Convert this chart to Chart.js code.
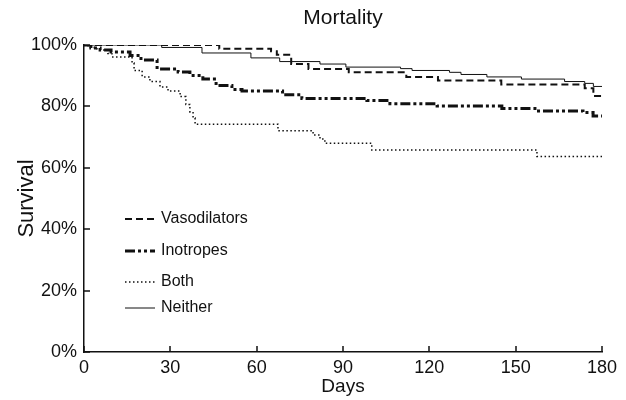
<!DOCTYPE html>
<html>
<head>
<meta charset="utf-8">
<script src="https://cdn.jsdelivr.net/npm/chart.js@4.4.1/dist/chart.umd.min.js"></script>
<style>
  html, body { margin: 0; padding: 0; background: #fff; }
  #wrap { width: 626px; height: 400px; }
</style>
</head>
<body>
<div id="wrap"><canvas id="chart" width="626" height="400"></canvas></div>
<script>
// Datos (días, % supervivencia)
const chartTitle = "Mortality";
const xTicks = [0, 30, 60, 90, 120, 150, 180];
const yTicks = [0, 20, 40, 60, 80, 100];

const vasoDays = [0, 47, 65, 67, 72, 78, 92, 112, 123, 145, 174, 177, 180];
const vasoSurv = [100, 98.8, 98, 96.8, 93.8, 92.2, 91.1, 89.6, 88.4, 87.1, 85.9, 83.4, 83.4];

const inoDays = [0, 2.4, 5.6, 9.4, 16, 19.8, 25.4, 32.7, 36.8, 41.3, 45.9, 51.4, 54.9, 69, 75.7, 98.3, 106.3, 122.7, 145.2, 156.7, 173.4, 176.9, 180];
const inoSurv = [100, 99, 98.4, 97.7, 96.6, 95.1, 92.2, 91.2, 90.1, 88.9, 86.8, 85.5, 85, 83.8, 82.6, 81.9, 80.9, 80.1, 79.3, 78.5, 78, 76.9, 76.9];

const bothDays = [0, 1.4, 4.5, 8.3, 9.7, 16.7, 17.4, 20.2, 22.9, 26.4, 29.2, 33.4, 35.4, 36.8, 37.9, 38.6, 67.4, 79.6, 82, 83.7, 100, 157.4, 180];
const bothSurv = [100, 99.2, 98.4, 97.2, 96.1, 94.1, 91.7, 89.6, 88.1, 86.3, 85, 83.2, 80.6, 78.2, 76.2, 74.2, 72.1, 70.7, 69.4, 68, 65.8, 63.7, 63.7];

const neitherDays = [0, 27, 41, 58, 68, 82, 91, 110, 114, 127, 131, 140, 152, 167, 174, 177, 180];
const neitherSurv = [100, 99.2, 97.4, 95.8, 94.6, 93.8, 92.8, 92.3, 91.7, 91.1, 90.4, 89.6, 88.9, 88.1, 87.5, 86.5, 86.5];

const ink = "#111";
const fontFam = "'Liberation Sans', Arial, sans-serif";

function pts(days, vals) {
    return days.map((d, i) => ({ x: d, y: vals[i] }));
}

const series = [
    { label: "Vasodilators", data: pts(vasoDays, vasoSurv), borderWidth: 2, borderDash: [7, 4] },
    { label: "Inotropes", data: pts(inoDays, inoSurv), borderWidth: 3, borderDash: [10, 3, 3, 3, 3, 3] },
    { label: "Both", data: pts(bothDays, bothSurv), borderWidth: 1.5, borderDash: [1.5, 2.5] },
    { label: "Neither", data: pts(neitherDays, neitherSurv), borderWidth: 1, borderDash: [] },
];

// Título, marcas de eje hacia dentro y leyenda dentro del área
const customDraw = {
    id: "customDraw",
    afterDraw(chart) {
        const ctx = chart.ctx;
        const area = chart.chartArea;
        const xs = chart.scales.x;
        const ys = chart.scales.y;
        ctx.save();
        ctx.fillStyle = ink;
        ctx.font = "21px " + fontFam;
        ctx.textAlign = "center";
        ctx.textBaseline = "middle";
        ctx.fillText(chartTitle, (area.left + area.right) / 2, 18);

        // marcas de los ejes
        ctx.strokeStyle = ink;
        ctx.lineWidth = 1.5;
        ctx.beginPath();
        xTicks.forEach(v => {
            const px = Math.round(xs.getPixelForValue(v));
            ctx.moveTo(px, area.bottom);
            ctx.lineTo(px, area.bottom - 6);
        });
        yTicks.forEach(v => {
            const py = Math.round(ys.getPixelForValue(v));
            ctx.moveTo(area.left, py);
            ctx.lineTo(area.left + 6, py);
        });
        ctx.stroke();

        const rowsY = [219, 251, 282, 308];
        ctx.font = "16px " + fontFam;
        ctx.textAlign = "left";
        chart.data.datasets.forEach((ds, i) => {
            const y = rowsY[i];
            ctx.beginPath();
            ctx.strokeStyle = ink;
            ctx.lineWidth = ds.borderWidth;
            ctx.setLineDash(ds.borderDash);
            ctx.moveTo(area.left + 41, y);
            ctx.lineTo(area.left + 71, y);
            ctx.stroke();
            ctx.setLineDash([]);
            ctx.fillText(ds.label, area.left + 77, y);
        });
        ctx.restore();
    },
};

const ctx = document.getElementById("chart").getContext("2d");
new Chart(ctx, {
    type: "line",
    data: {
        datasets: series.map(s => ({
            label: s.label,
            data: s.data,
            borderColor: ink,
            borderWidth: s.borderWidth,
            borderDash: s.borderDash,
            stepped: true,
            pointRadius: 0,
            fill: false,
        })),
    },
    options: {
        responsive: false,
        animation: false,
        layout: { padding: { left: 0, right: 24, top: 45, bottom: 0 } },
        plugins: {
            legend: { display: false },
            title: { display: false },
            tooltip: { enabled: false },
        },
        scales: {
            x: {
                type: "linear",
                min: 0,
                max: 180,
                afterBuildTicks: s => { s.ticks = xTicks.map(v => ({ value: v })); },
                afterFit: s => { s.height = 48; },
                grid: { drawOnChartArea: false, drawTicks: false },
                border: { color: ink, width: 1.5 },
                ticks: { color: ink, padding: 5, maxRotation: 0, font: { size: 18, family: fontFam } },
                title: { display: true, text: "Days", color: ink, padding: { top: 0, bottom: 2 }, font: { size: 19, family: fontFam } },
            },
            y: {
                min: 0,
                max: 100,
                afterBuildTicks: s => { s.ticks = yTicks.map(v => ({ value: v })); },
                afterFit: s => { s.width = 84; },
                grid: { drawOnChartArea: false, drawTicks: false },
                border: { color: ink, width: 1.5 },
                ticks: { color: ink, padding: 7, callback: v => v + "%", font: { size: 18, family: fontFam } },
                title: { display: true, text: "Survival", color: ink, padding: { top: 14, bottom: 0 }, font: { size: 22, family: fontFam } },
            },
        },
    },
    plugins: [customDraw],
});
</script>
</body>
</html>
